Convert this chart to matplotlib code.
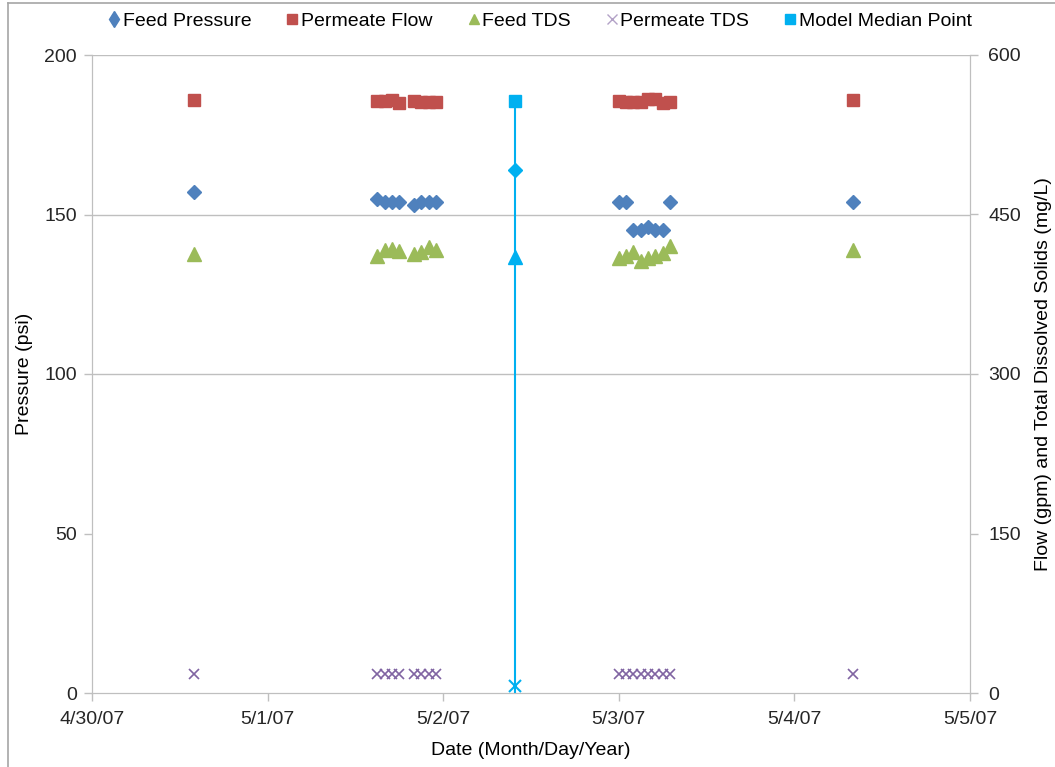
import matplotlib.pyplot as plt
import matplotlib.dates as mdates
from matplotlib.lines import Line2D
from datetime import datetime

plt.rcParams['font.family'] = ['Liberation Sans', 'DejaVu Sans']

# sample times
times = ([datetime(2007, 4, 30, 14)]
         + [datetime(2007, 5, 1, h) for h in (15, 16, 17, 18, 20, 21, 22, 23)]
         + [datetime(2007, 5, 3, h) for h in range(8)]
         + [datetime(2007, 5, 4, 8)])

feed_pressure = [157, 155, 154, 154, 154, 153, 154, 154, 154,
                 154, 154, 145, 145, 146, 145, 145, 154, 154]
permeate_flow = [558, 557, 557, 558, 555, 557, 556, 556, 556,
                 557, 556, 556, 556, 559, 559, 555, 556, 558]
feed_tds = [413, 411, 417, 418, 416, 413, 415, 419, 417,
            409, 411, 415, 406, 409, 411, 414, 420, 417]
permeate_tds = [18] * 18

# model median point
median_time = datetime(2007, 5, 2, 9, 50)
median_pressure = 164
median_flow = 557
median_feed_tds = 410
median_perm_tds = 7

c_fp = '#4F81BD'
c_pf = '#C0504D'
c_ft = '#9BBB59'
c_pt = '#8064A2'
c_md = '#00B0F0'
grey = '#BFBFBF'
fs = 14

fig = plt.figure(figsize=(10.55, 7.67), dpi=100)
ax = fig.add_axes([92 / 1055, 74 / 767, 878 / 1055, 638 / 767])
ax2 = ax.twinx()

ax.plot(times, feed_pressure, 'D', color=c_fp, ms=6.8, mec=c_fp)
ax2.plot(times, permeate_flow, 's', color=c_pf, ms=9, mec=c_pf)
ax2.plot(times, feed_tds, '^', color=c_ft, ms=9.5, mec=c_ft)
ax2.plot(times, permeate_tds, 'x', color=c_pt, ms=7, mew=1.2)

ax2.plot([median_time, median_time], [0, median_flow], '-', color=c_md, lw=1.5)
ax.plot([median_time], [median_pressure], 'D', color=c_md, ms=6.8)
ax2.plot([median_time], [median_flow], 's', color=c_md, ms=9)
ax2.plot([median_time], [median_feed_tds], '^', color=c_md, ms=9.5)
ax2.plot([median_time], [median_perm_tds], 'x', color=c_md, ms=8, mew=1.5)

ax.set_xlim(datetime(2007, 4, 30), datetime(2007, 5, 5))
ax.set_ylim(0, 200)
ax2.set_ylim(0, 600)
ax.set_yticks(range(0, 201, 50))
ax2.set_yticks(range(0, 601, 150))
ax.xaxis.set_major_locator(mdates.DayLocator())
ax.xaxis.set_major_formatter(plt.FuncFormatter(
    lambda v, p: '{d.month}/{d.day}/{d:%y}'.format(d=mdates.num2date(v))))

for yv in (100, 150, 200):
    ax.axhline(yv, color=grey, lw=1, zorder=0)

for a in (ax, ax2):
    for s in a.spines.values():
        s.set_color(grey)
    a.spines['top'].set_visible(False)
    a.tick_params(colors=grey, labelcolor='#262626', labelsize=fs, length=6, width=1)
ax.tick_params(axis='x', pad=7)
ax.tick_params(axis='y', pad=5)
ax2.tick_params(axis='y', pad=7)

ax.set_ylabel('Pressure (psi)', fontsize=fs, labelpad=8)
ax.set_xlabel('Date (Month/Day/Year)', fontsize=fs, labelpad=10)
ax2.set_ylabel('Flow (gpm) and Total Dissolved Solids (mg/L)', fontsize=fs, labelpad=10)

handles = [
    Line2D([], [], ls='', marker='d', color=c_fp, ms=8),
    Line2D([], [], ls='', marker='s', color=c_pf, ms=7),
    Line2D([], [], ls='', marker='^', color=c_ft, ms=7),
    Line2D([], [], ls='', marker='x', color='#B3A2C7', ms=7, mew=1),
    Line2D([], [], ls='', marker='s', color=c_md, ms=7),
]
labels = ['Feed Pressure', 'Permeate Flow', 'Feed TDS', 'Permeate TDS', 'Model Median Point']
fig.legend(handles, labels, loc='center', bbox_to_anchor=(0.512, 0.973), ncol=5,
           frameon=False, fontsize=fs, handlelength=0.6, handletextpad=0.15,
           columnspacing=1.8)

# outer chart border
fig.add_artist(Line2D([8 / 1055, 8 / 1055], [0, 1 - 3 / 767], color='#A6A6A6', lw=1.2,
                      transform=fig.transFigure))
fig.add_artist(Line2D([8 / 1055, 1], [1 - 3 / 767, 1 - 3 / 767], color='#A6A6A6', lw=1.2,
                      transform=fig.transFigure))

fig.savefig('out.png', dpi=100)
